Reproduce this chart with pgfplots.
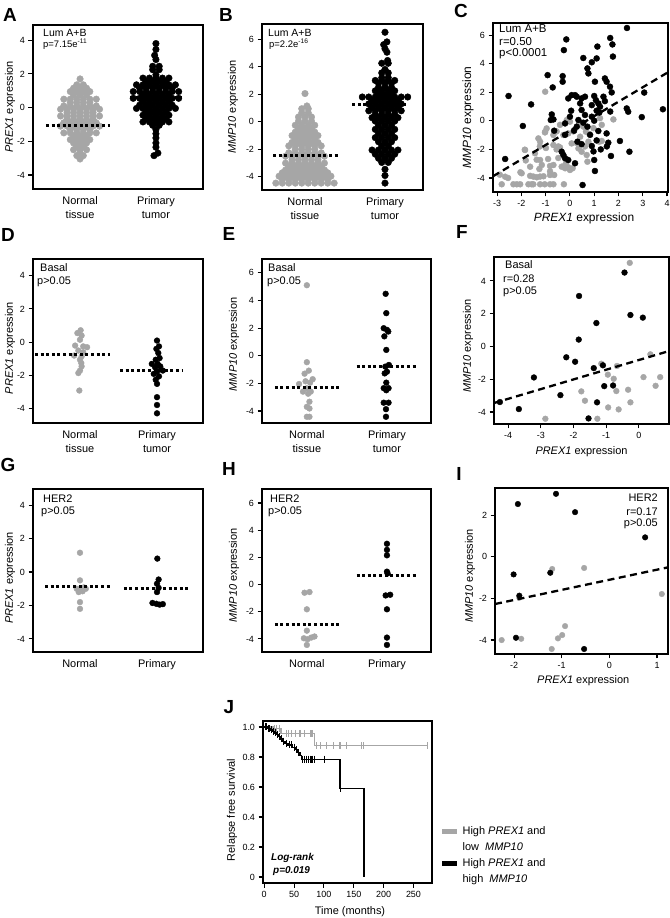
\documentclass[border=0pt]{standalone}
\usepackage{pgfplots}
\pgfplotsset{compat=1.18}
\usepackage{fontspec}
\setmainfont{Liberation Sans}
\definecolor{gr}{RGB}{166,166,166}
\pgfplotsset{
 base/.style={scale only axis, anchor=south west, clip=false, clip marker paths=true,
   axis line style={line width=1.1bp},
   every tick/.style={black, line width=1.1bp},
   tick align=outside, major tick length=4.5bp, tick pos=left,
   ticklabel style={font=\fontsize{9}{10}\selectfont},
   /pgf/number format/assume math mode=true,
   every axis y label/.style={at={(axis description cs:-0.15,0.5)}, rotate=90, anchor=center, font=\fontsize{11}{13}\selectfont},
   every axis x label/.style={at={(axis description cs:0.5,-0.16)}, anchor=center, font=\fontsize{11}{13}\selectfont},
 },
 swarm/.style={base, xtick={1,2}, xticklabels={{Normal\\tissue},{Primary\\tumor}},
   xticklabel style={align=center, font=\fontsize{11}{14}\selectfont},
   xtick style={draw=none}},
 gdot/.style={only marks, mark=*, color=gr, mark size=#1},
 gdot/.default=3.3bp,
 bdot/.style={only marks, mark=*, color=black, mark size=#1},
 bdot/.default=3.3bp,
 med/.style={black, line width=3bp, dash pattern=on 3bp off 2.6bp},
 reg/.style={black, line width=2.3bp, dash pattern=on 7bp off 4.5bp},
}
\begin{document}
\begin{tikzpicture}
% ---------------- A ----------------
\begin{axis}[swarm, at={(33bp,729bp)}, width=170bp, height=164bp,
  xmin=0.38, xmax=2.62, ymin=-4.83, ymax=4.9, ytick={-4,-2,0,2,4},
  ylabel={\textit{PREX1} expression}, ylabel style={at={(axis description cs:-0.135,0.5)}}]
\addplot[gdot] table[x expr=1+0.0855*\thisrow{k}, y=y, row sep=\\] {k y\\
0 1.7\\ -0.5 1.35\\ 0.5 1.35\\ -1 1.15\\ 0 1.15\\ 1 1.15\\
-1.5 0.95\\ -0.5 0.95\\ 0.5 0.95\\ 1.5 0.95\\ -1 0.75\\ 0 0.75\\ 1 0.75\\
-2.5 0.5\\ -1.5 0.5\\ -0.5 0.5\\ 0.5 0.5\\ 1.5 0.5\\ 2.5 0.5\\
-1.5 0.3\\ -0.5 0.3\\ 0.5 0.3\\ 1.5 0.3\\
-2.5 0.1\\ -1.5 0.1\\ -0.5 0.1\\ 0.5 0.1\\ 1.5 0.1\\ 2.5 0.1\\
-3 -0.1\\ -2 -0.1\\ -1 -0.1\\ 0 -0.1\\ 1 -0.1\\ 2 -0.1\\ 3 -0.1\\
-2 -0.3\\ -1 -0.3\\ 0 -0.3\\ 1 -0.3\\ 2 -0.3\\
-3 -0.5\\ -2 -0.5\\ -1 -0.5\\ 0 -0.5\\ 1 -0.5\\ 2 -0.5\\ 3 -0.5\\
-2 -0.7\\ -1 -0.7\\ 0 -0.7\\ 1 -0.7\\ 2 -0.7\\
-2.5 -0.9\\ -1.5 -0.9\\ -0.5 -0.9\\ 0.5 -0.9\\ 1.5 -0.9\\ 2.5 -0.9\\
-3 -1.1\\ -2 -1.1\\ -1 -1.1\\ 0 -1.1\\ 1 -1.1\\ 2 -1.1\\ 3 -1.1\\
-1.5 -1.3\\ -0.5 -1.3\\ 0.5 -1.3\\ 1.5 -1.3\\
-2.5 -1.5\\ -1.5 -1.5\\ -0.5 -1.5\\ 0.5 -1.5\\ 1.5 -1.5\\ 2.5 -1.5\\
-1 -1.7\\ 0 -1.7\\ 1 -1.7\\ -1.5 -1.9\\ -0.5 -1.9\\ 0.5 -1.9\\ 1.5 -1.9\\
-1 -2.1\\ 0 -2.1\\ 1 -2.1\\ -0.5 -2.3\\ 0.5 -2.3\\
-1 -2.5\\ 0 -2.5\\ 1 -2.5\\ 0 -2.7\\ -0.5 -2.85\\ 0.5 -2.85\\ 0 -3.05\\
};
\addplot[bdot] table[x expr=2+0.0855*\thisrow{k}, y=y, row sep=\\] {k y\\
0 3.8\\ 0 3.45\\ -0.2 3.1\\ 0 2.85\\ -0.5 2.45\\ 0.5 2.45\\ -0.5 2.25\\ 0.5 2.25\\ 0 1.95\\
-2 1.75\\ -1 1.75\\ 0 1.75\\ 1 1.75\\ 2 1.75\\
-1.5 1.55\\ -0.5 1.55\\ 0.5 1.55\\ 1.5 1.55\\
-3 1.35\\ -2 1.35\\ -1 1.35\\ 0 1.35\\ 1 1.35\\ 2 1.35\\ 3 1.35\\
-2.5 1.15\\ -1.5 1.15\\ -0.5 1.15\\ 0.5 1.15\\ 1.5 1.15\\ 2.5 1.15\\
-3.5 0.95\\ -2.5 0.95\\ -1.5 0.95\\ -0.5 0.95\\ 0.5 0.95\\ 1.5 0.95\\ 2.5 0.95\\ 3.5 0.95\\
-2 0.75\\ -1 0.75\\ 0 0.75\\ 1 0.75\\ 2 0.75\\
-3.5 0.55\\ -2.5 0.55\\ -1.5 0.55\\ -0.5 0.55\\ 0.5 0.55\\ 1.5 0.55\\ 2.5 0.55\\ 3.5 0.55\\
-2 0.35\\ -1 0.35\\ 0 0.35\\ 1 0.35\\ 2 0.35\\
-2.5 0.15\\ -1.5 0.15\\ -0.5 0.15\\ 0.5 0.15\\ 1.5 0.15\\ 2.5 0.15\\
-3 -0.05\\ -2 -0.05\\ -1 -0.05\\ 0 -0.05\\ 1 -0.05\\ 2 -0.05\\ 3 -0.05\\
-1.5 -0.25\\ -0.5 -0.25\\ 0.5 -0.25\\ 1.5 -0.25\\
-2 -0.45\\ -1 -0.45\\ 0 -0.45\\ 1 -0.45\\ 2 -0.45\\
-1.5 -0.65\\ -0.5 -0.65\\ 0.5 -0.65\\ 1.5 -0.65\\
-2 -0.85\\ -1 -0.85\\ 0 -0.85\\ 1 -0.85\\ 2 -0.85\\
-0.5 -1.05\\ 0.5 -1.05\\ 0 -1.3\\ 0 -1.55\\ 0 -1.8\\ 0 -2.1\\ 0 -2.35\\ 0.3 -2.7\\ -0.3 -2.85\\
};
\addplot[med] coordinates {(0.55,-1.05) (1.4,-1.05)};
\addplot[med] coordinates {(1.66,0.6) (2.34,0.6)};
\end{axis}
% ---------------- B ----------------
\begin{axis}[swarm, at={(262bp,728bp)}, width=161bp, height=166bp,
  xmin=0.4625, xmax=2.475, ymin=-4.95, ymax=7.1, ytick={-4,-2,0,2,4,6},
  ylabel={\textit{MMP10} expression}, ylabel style={at={(axis description cs:-0.18,0.5)}}]
\addplot[gdot] table[x expr=1+0.081*\thisrow{k}, y=y, row sep=\\] {k y\\
0 2.05\\ 0.3 1.15\\ -0.5 0.95\\ 0.5 0.95\\ -0.5 0.65\\ 0.5 0.65\\
-1 0.35\\ 0 0.35\\ 1 0.35\\ -1 0.05\\ 0 0.05\\ 1 0.05\\
-1.5 -0.25\\ -0.5 -0.25\\ 0.5 -0.25\\ 1.5 -0.25\\ -1 -0.5\\ 0 -0.5\\ 1 -0.5\\
-1.5 -0.75\\ -0.5 -0.75\\ 0.5 -0.75\\ 1.5 -0.75\\
-2 -1\\ -1 -1\\ 0 -1\\ 1 -1\\ 2 -1\\
-1.5 -1.25\\ -0.5 -1.25\\ 0.5 -1.25\\ 1.5 -1.25\\
-2 -1.5\\ -1 -1.5\\ 0 -1.5\\ 1 -1.5\\ 2 -1.5\\
-2.5 -1.75\\ -1.5 -1.75\\ -0.5 -1.75\\ 0.5 -1.75\\ 1.5 -1.75\\ 2.5 -1.75\\
-1.5 -2\\ -0.5 -2\\ 0.5 -2\\ 1.5 -2\\
-2.5 -2.25\\ -1.5 -2.25\\ -0.5 -2.25\\ 0.5 -2.25\\ 1.5 -2.25\\ 2.5 -2.25\\
-3 -2.5\\ -2 -2.5\\ -1 -2.5\\ 0 -2.5\\ 1 -2.5\\ 2 -2.5\\ 3 -2.5\\
-2 -2.75\\ -1 -2.75\\ 0 -2.75\\ 1 -2.75\\ 2 -2.75\\
-3 -3\\ -2 -3\\ -1 -3\\ 0 -3\\ 1 -3\\ 2 -3\\ 3 -3\\
-2.5 -3.25\\ -1.5 -3.25\\ -0.5 -3.25\\ 0.5 -3.25\\ 1.5 -3.25\\ 2.5 -3.25\\
-3 -3.5\\ -2 -3.5\\ -1 -3.5\\ 0 -3.5\\ 1 -3.5\\ 2 -3.5\\ 3 -3.5\\
-3.5 -3.7\\ -2.5 -3.7\\ -1.5 -3.7\\ -0.5 -3.7\\ 0.5 -3.7\\ 1.5 -3.7\\ 2.5 -3.7\\ 3.5 -3.7\\
-4 -3.95\\ -3 -3.95\\ -2 -3.95\\ -1 -3.95\\ 0 -3.95\\ 1 -3.95\\ 2 -3.95\\ 3 -3.95\\ 4 -3.95\\
-3.5 -4.2\\ -2.5 -4.2\\ -1.5 -4.2\\ -0.5 -4.2\\ 0.5 -4.2\\ 1.5 -4.2\\ 2.5 -4.2\\ 3.5 -4.2\\
-4.5 -4.45\\ -3.5 -4.45\\ -2.5 -4.45\\ -1.5 -4.45\\ -0.5 -4.45\\ 0.5 -4.45\\ 1.5 -4.45\\ 2.5 -4.45\\ 3.5 -4.45\\ 4.5 -4.45\\
};
\addplot[bdot] table[x expr=2+0.081*\thisrow{k}, y=y, row sep=\\] {k y\\
0 6.5\\ 0.3 5.8\\ -0.2 5.6\\ 0 5.3\\ 0.3 5.05\\ 0.4 4.45\\ -0.5 4.25\\ 0.5 4.25\\ 0 3.8\\
-0.5 3.55\\ 0.5 3.55\\ -0.5 3.2\\ 0.5 3.2\\
-1.5 3\\ -0.5 3\\ 0.5 3\\ 1.5 3\\ -1 2.8\\ 0 2.8\\ 1 2.8\\
-1 2.5\\ 0 2.5\\ 1 2.5\\ -1.5 2.25\\ -0.5 2.25\\ 0.5 2.25\\ 1.5 2.25\\
-1 2\\ 0 2\\ 1 2\\
-3.5 1.8\\ -2.5 1.8\\ -1.5 1.8\\ -0.5 1.8\\ 0.5 1.8\\ 1.5 1.8\\ 2.5 1.8\\ 3.5 1.8\\
-2 1.55\\ -1 1.55\\ 0 1.55\\ 1 1.55\\ 2 1.55\\
-2.5 1.3\\ -1.5 1.3\\ -0.5 1.3\\ 0.5 1.3\\ 1.5 1.3\\ 2.5 1.3\\
-2 1.05\\ -1 1.05\\ 0 1.05\\ 1 1.05\\ 2 1.05\\
-2.5 0.8\\ -1.5 0.8\\ -0.5 0.8\\ 0.5 0.8\\ 1.5 0.8\\ 2.5 0.8\\
-1.5 0.55\\ -0.5 0.55\\ 0.5 0.55\\ 1.5 0.55\\
-2 0.3\\ -1 0.3\\ 0 0.3\\ 1 0.3\\ 2 0.3\\
-1.5 0.05\\ -0.5 0.05\\ 0.5 0.05\\ 1.5 0.05\\
-1 -0.25\\ 0 -0.25\\ 1 -0.25\\ -1.5 -0.55\\ -0.5 -0.55\\ 0.5 -0.55\\ 1.5 -0.55\\
-1 -0.85\\ 0 -0.85\\ 1 -0.85\\ -1.5 -1.15\\ -0.5 -1.15\\ 0.5 -1.15\\ 1.5 -1.15\\
-1 -1.45\\ 0 -1.45\\ 1 -1.45\\ -0.5 -1.75\\ 0.5 -1.75\\
-2 -2.05\\ -1 -2.05\\ 0 -2.05\\ 1 -2.05\\ 2 -2.05\\
-1.5 -2.35\\ -0.5 -2.35\\ 0.5 -2.35\\ 1.5 -2.35\\ -1 -2.65\\ 0 -2.65\\ 1 -2.65\\
-0.5 -2.95\\ 0.5 -2.95\\ 0 -3.45\\ 0 -3.9\\ 0 -4.45\\
};
\addplot[med] coordinates {(0.6,-2.42) (1.41,-2.42)};
\addplot[med] coordinates {(1.59,1.29) (2.29,1.29)};
\end{axis}
% ---------------- C ----------------
\begin{axis}[base, at={(493bp,726bp)}, width=175bp, height=169bp,
  xmin=-3.17, xmax=4.04, ymin=-4.98, ymax=6.85, xtick={-3,-2,...,4}, ytick={-4,-2,0,2,4,6},
  xlabel={\textit{PREX1} expression}, ylabel={\textit{MMP10} expression},
  xlabel style={at={(axis description cs:0.52,-0.154)}, font=\fontsize{12}{14}\selectfont},
  ylabel style={at={(axis description cs:-0.143,0.44)}, font=\fontsize{12}{14}\selectfont}]
\addplot[gdot=3bp] coordinates {(-1.02,2.04) (1.79,0.1) (-0.13,0.06) (0.0,-0.06) (-0.96,-0.53) (-1.02,-0.76) (-0.68,-0.99) (-1.3,-1.23) (-1.23,-1.46) (-0.27,-0.99) (-0.07,-0.88) (0.42,-1.11) (0.66,-0.76) (0.8,-0.92) (1.21,-1.46) (1.31,-1.41) (0.76,-1.46) (0.07,-1.58) (0.35,-1.93) (0.48,-2.16) (-0.68,-1.69) (-0.41,-1.86) (-0.55,-2.0) (-1.85,-2.04) (-1.44,-2.27) (-1.23,-2.74) (-1.16,-3.09) (-1.64,-3.21) (-0.82,-3.16) (-0.68,-3.09) (-0.34,-3.21) (-0.2,-3.32) (-0.07,-3.25) (0.69,-2.39) (0.72,-2.86) (-1.99,-3.67) (-2.67,-3.91) (-1.64,-3.85) (-1.51,-3.9) (-1.37,-3.95) (-1.23,-3.9) (-1.09,-3.88) (-0.82,-3.79) (-0.65,-3.79) (-2.33,-4.44) (-2.19,-4.44) (-2.05,-4.44) (-1.71,-4.44) (-1.51,-4.44) (-1.23,-4.44) (-0.82,-4.44) (-0.68,-4.44) (-2.81,-4.44) (-0.25,-4.44) (0.0,-3.44) (0.11,-3.32) (-2.89,-3.77) (-2.55,-4.0) (-1.58,-4.44) (-1.04,-4.44) (-0.41,-0.28) (-0.55,-0.74) (0.14,-0.74) (0.35,-0.28) (0.55,-0.4) (1.24,0.19) (1.31,-0.28) (0.97,-0.51) (-1.03,-0.81) (0.62,-1.79) (0.28,-1.56) (-0.48,-1.79) (-0.99,-1.9) (-1.24,-1.79) (-1.86,-2.02) (-0.9,-2.67) (-0.48,-2.6) (-0.16,-2.95) (-0.27,-3.19) (-1.37,-2.72) (-1.82,-2.77) (-2.04,-3.6) (-1.26,-3.37) (-0.82,-3.53)};
\addplot[bdot=3bp] coordinates {(2.35,6.5) (-0.15,5.7) (-0.25,4.95) (1.66,5.8) (1.75,5.35) (1.13,5.2) (0.55,4.4) (1.1,4.37) (0.9,4.1) (1.77,4.5) (0.72,3.67) (0.76,3.32) (-0.92,3.2) (-0.3,3.13) (-0.3,2.74) (1.44,2.97) (1.51,2.74) (1.03,2.74) (-0.71,2.34) (-2.53,1.74) (-1.6,1.15) (1.65,2.39) (1.72,1.99) (0.07,1.8) (0.21,1.8) (0.28,1.69) (-0.07,1.57) (0.48,1.57) (0.62,1.69) (1.0,1.74) (1.07,1.45) (1.38,1.69) (1.44,1.38) (0.42,1.22) (0.9,1.1) (1.17,1.22) (2.34,0.87) (2.4,0.64) (0.05,0.71) (0.48,0.76) (1.1,0.71) (1.24,0.99) (-0.75,0.45) (-0.68,0.1) (-0.79,0.06) (0.0,0.29) (0.35,0.06) (0.62,0.41) (0.9,0.29) (1.0,0.01) (0.55,-0.13) (-0.2,-0.18) (-1.94,-0.36) (-0.65,-0.69) (0.17,-0.69) (0.28,-0.41) (0.72,-0.41) (1.17,-0.71) (1.51,-0.88) (2.06,-1.41) (1.58,-1.53) (-0.34,-2.16) (-0.27,-2.39) (-0.2,-2.62) (-0.07,-2.74) (0.21,-2.97) (0.9,-1.76) (1.27,-2.0) (0.31,-1.46) (1.0,-2.74) (1.03,-3.51) (1.69,-2.46) (2.45,-2.16) (0.52,-4.49) (-2.67,-2.67) (3.06,1.98) (3.83,0.81) (2.96,0.26) (0.83,-0.98) (1.1,-1.37) (0.48,-1.63) (0.97,-2.14) (1.52,-1.79) (1.66,0.65) (1.21,0.58) (-0.2,-0.98)};
\addplot[reg] coordinates {(-3.17,-3.88) (4.04,3.4)};
\end{axis}
% ---------------- D ----------------
\begin{axis}[swarm, at={(33bp,495bp)}, width=170bp, height=164bp,
  xmin=0.39, xmax=2.597, ymin=-4.85, ymax=5.0, ytick={-4,-2,0,2,4},
  ylabel={\textit{PREX1} expression}, ylabel style={at={(axis description cs:-0.135,0.457)}}]
\addplot[gdot=2.9bp] table[x expr=1+0.084*\thisrow{k}, y=y, row sep=\\] {k y\\
0.1 0.72\\ -0.4 0.55\\ 0.25 0.4\\ 0 0.15\\ -0.75 -0.2\\ 0.5 -0.25\\ 1.1 -0.3\\ -0.25 -0.5\\ 0.5 -0.6\\ -0.9 -0.8\\ 0.25 -0.85\\ 0 -1.05\\ 0.2 -1.25\\ 0.25 -1.45\\ 0 -1.7\\ -0.25 -1.85\\ -0.1 -2.9\\
};
\addplot[bdot=2.9bp] table[x expr=2+0.084*\thisrow{k}, y=y, row sep=\\] {k y\\
0 0.1\\ 0.3 -0.25\\ -0.1 -0.4\\ 0.2 -0.65\\ 0.4 -0.95\\ -0.2 -1.05\\ -0.8 -1.3\\ 0.1 -1.3\\ 0.5 -1.45\\ -0.3 -1.5\\ 0.9 -1.7\\ 0 -1.75\\ -0.5 -1.9\\ 0.3 -2.05\\ -0.2 -2.25\\ 0 -2.5\\ 0 -3.3\\ 0 -3.77\\ 0 -4.27\\
};
\addplot[med] coordinates {(0.416,-0.76) (1.39,-0.76)};
\addplot[med] coordinates {(1.52,-1.7) (2.33,-1.7)};
\end{axis}
% ---------------- E ----------------
\begin{axis}[swarm, at={(262bp,495bp)}, width=169bp, height=164bp,
  xmin=0.44, xmax=2.55, ymin=-4.87, ymax=7.0, ytick={-4,-2,0,2,4,6},
  ylabel={\textit{MMP10} expression}, ylabel style={at={(axis description cs:-0.166,0.48)}}]
\addplot[gdot=2.9bp] table[x expr=1+0.081*\thisrow{k}, y=y, row sep=\\] {k y\\
0 5.1\\ 0 -0.47\\ 0.3 -1.08\\ -0.35 -1.3\\ 0.9 -1.7\\ -0.2 -1.85\\ 0.5 -1.95\\ -1.2 -2.05\\ 0 -2.36\\ -0.6 -2.6\\ 0.6 -2.6\\ 0.2 -2.75\\ 0.4 -3.33\\ 0 -3.7\\ 0.4 -3.82\\ 0 -4.42\\ 0.4 -4.42\\
};
\addplot[bdot=2.9bp] table[x expr=2+0.081*\thisrow{k}, y=y, row sep=\\] {k y\\
-0.2 4.48\\ -0.1 3.08\\ -0.5 1.99\\ 0 1.87\\ 0.2 1.75\\ -0.4 1.4\\ -0.1 0.42\\ 0.3 -0.67\\ -0.25 -0.79\\ 0 -1.16\\ -0.35 -1.28\\ -0.1 -1.95\\ -0.5 -2.35\\ 0.25 -2.35\\ -0.1 -2.5\\ -0.5 -3.4\\ 0.25 -3.4\\ -0.15 -3.87\\ -0.15 -4.42\\
};
\addplot[med] coordinates {(0.6,-2.3) (1.415,-2.3)};
\addplot[med] coordinates {(1.62,-0.79) (2.37,-0.79)};
\end{axis}
% ---------------- F ----------------
\begin{axis}[base, at={(494bp,494bp)}, width=175bp, height=167bp,
  xmin=-4.43, xmax=0.92, ymin=-4.73, ymax=5.46, xtick={-4,-3,...,0}, ytick={-4,-2,0,2,4},
  xlabel={\textit{PREX1} expression}, ylabel={\textit{MMP10} expression},
  xlabel style={at={(axis description cs:0.5,-0.168)}}, ylabel style={at={(axis description cs:-0.149,0.467)}}]
\addplot[gdot=2.9bp] coordinates {(-0.28,5.1) (-1.15,-1.05) (-0.67,-1.19) (0.35,-0.48) (-0.95,-1.72) (-0.77,-1.97) (0.14,-1.87) (0.65,-1.87) (0.51,-2.4) (-0.69,-2.72) (-0.33,-2.64) (-1.76,-2.74) (-1.65,-3.31) (-0.94,-3.72) (-0.62,-3.84) (-0.26,-3.41) (-2.86,-4.41) (-1.27,-4.41)};
\addplot[bdot=2.9bp] coordinates {(-0.44,4.51) (-1.83,3.08) (-0.26,1.92) (0.12,1.76) (-1.3,1.43) (-1.84,0.42) (-2.22,-0.66) (-1.95,-0.93) (-1.38,-1.32) (-1.1,-1.15) (-3.21,-1.89) (-1.06,-2.42) (-0.79,-2.38) (-2.4,-2.97) (-1.28,-3.41) (-3.67,-3.82) (-4.25,-3.39) (-1.54,-4.39)};
\addplot[reg] coordinates {(-4.43,-3.45) (0.92,-0.28)};
\end{axis}
% ---------------- G ----------------
\begin{axis}[swarm, at={(33bp,266bp)}, width=170bp, height=163bp,
  xmin=0.39, xmax=2.597, ymin=-4.78, ymax=4.96, ytick={-4,-2,0,2,4},
  xticklabels={Normal,Primary},
  ylabel={\textit{PREX1} expression}, ylabel style={at={(axis description cs:-0.135,0.454)}}]
\addplot[gdot=2.9bp] table[x expr=1+0.084*\thisrow{k}, y=y, row sep=\\] {k y\\
0 1.15\\ 0 -0.5\\ 0.6 -0.92\\ -0.5 -1.0\\ 0 -1.05\\ 0.9 -1.0\\ -0.2 -1.2\\ 0.4 -1.15\\ 0 -1.8\\ 0 -2.2\\
};
\addplot[bdot=2.9bp] table[x expr=2+0.084*\thisrow{k}, y=y, row sep=\\] {k y\\
0.05 0.8\\ 0.25 -0.45\\ 0 -0.7\\ 0.25 -0.95\\ 0 -1.2\\ -0.7 -1.85\\ -0.1 -1.9\\ 0.4 -1.95\\ 0.9 -1.92\\
};
\addplot[med] coordinates {(0.546,-0.88) (1.39,-0.88)};
\addplot[med] coordinates {(1.57,-0.97) (2.4,-0.97)};
\end{axis}
% ---------------- H ----------------
\begin{axis}[swarm, at={(262bp,266bp)}, width=169bp, height=163bp,
  xmin=0.44, xmax=2.55, ymin=-4.96, ymax=7.03, ytick={-4,-2,0,2,4,6},
  xticklabels={Normal,Primary},
  ylabel={\textit{MMP10} expression}, ylabel style={at={(axis description cs:-0.166,0.47)}}]
\addplot[gdot=2.9bp] table[x expr=1+0.081*\thisrow{k}, y=y, row sep=\\] {k y\\
-0.36 -0.6\\ 0.41 -0.55\\ 0 -1.82\\ 0 -3.39\\ -0.46 -3.95\\ 0.1 -4.02\\ 0.67 -3.9\\ 1.18 -3.82\\ 0 -4.44\\
};
\addplot[bdot=2.9bp] table[x expr=2+0.081*\thisrow{k}, y=y, row sep=\\] {k y\\
0 3.0\\ 0 2.55\\ 0 2.15\\ 0 0.95\\ 0.1 0.82\\ -0.2 -0.8\\ 0.5 -0.75\\ 0 -1.82\\ 0 -3.9\\ 0 -4.44\\
};
\addplot[med] coordinates {(0.6,-2.97) (1.415,-2.97)};
\addplot[med] coordinates {(1.62,0.68) (2.37,0.68)};
\end{axis}
% ---------------- I ----------------
\begin{axis}[base, at={(495bp,264bp)}, width=173bp, height=166bp,
  xmin=-2.4, xmax=1.23, ymin=-4.67, ymax=3.3, xtick={-2,-1,0,1}, ytick={-4,-2,0,2},
  xlabel={\textit{PREX1} expression}, ylabel={\textit{MMP10} expression},
  xlabel style={at={(axis description cs:0.51,-0.163)}}, ylabel style={at={(axis description cs:-0.145,0.47)}}]
\addplot[gdot=2.8bp] coordinates {(-2.26,-4.0) (-1.85,-3.94) (-1.2,-0.59) (-0.53,-0.54) (-1.89,-1.97) (-0.93,-3.33) (-0.99,-3.76) (-1.08,-3.92) (-1.21,-4.43) (1.1,-1.79)};
\addplot[bdot=2.8bp] coordinates {(-1.92,2.53) (-1.12,3.02) (-0.72,2.14) (0.75,0.93) (-2.01,-0.85) (-1.24,-0.77) (-1.89,-1.87) (-1.96,-3.89) (-0.53,-4.43)};
\addplot[reg] coordinates {(-2.4,-2.27) (1.23,-0.51)};
\end{axis}
% ---------------- J ----------------
\begin{axis}[base, at={(263bp,35bp)}, width=169bp, height=162bp,
  xmin=-2, xmax=281, ymin=-0.04, ymax=1.04, xtick={0,50,...,250},
  ytick={0,0.2,0.4,0.6,0.8,1}, yticklabels={0,0.2,0.4,0.6,0.8,1.0},
  xlabel={Time (months)}, ylabel={Relapse free survival},
  xlabel style={at={(axis description cs:0.515,-0.179)}}, ylabel style={at={(axis description cs:-0.183,0.45)}},
  legend image code/.code={\draw[#1] (0bp,0bp) -- (15bp,0bp);},
  legend cell align=left,
  legend style={at={(axis description cs:1.047,0.36)}, anchor=north west, draw=none, fill=none,
    inner sep=0pt, row sep=2.5bp, font=\fontsize{11}{13}\selectfont,
    nodes={inner sep=1.5bp, text height=8bp, text depth=2.5bp},
    /tikz/every odd column/.append style={column sep=1.5bp}}]
\addplot[gr, line width=1.4bp, const plot, forget plot] coordinates {(0,1) (15,0.99) (28,0.958) (84,0.875) (275,0.875)};
\addplot[gr, only marks, mark=|, mark size=3.5bp, mark options={line width=1.1bp}, forget plot] coordinates {(18,0.99) (21,0.99) (25,0.99) (37,0.958) (41,0.958) (46,0.958) (52,0.958) (60,0.958) (68,0.958) (77,0.958) (80,0.958) (88,0.875) (94,0.875) (105,0.875) (116,0.875) (127,0.875) (138,0.875) (163,0.875) (166,0.875) (274,0.875)};
\addplot[black, line width=1.4bp, const plot, forget plot] coordinates {(0,1) (5,0.99) (10,0.98) (14,0.97) (17,0.96) (20,0.95) (24,0.935) (27,0.92) (30,0.905) (35,0.89) (40,0.88) (47,0.865) (52,0.85) (56,0.83) (60,0.81) (62,0.785) (127,0.59) (167,0)};
\addplot[black, only marks, mark=|, mark size=3.5bp, mark options={line width=1.1bp}, forget plot] coordinates {(3,1) (8,0.99) (12,0.98) (16,0.97) (19,0.96) (22,0.95) (26,0.935) (29,0.92) (33,0.905) (37,0.89) (43,0.88) (45,0.88) (50,0.865) (54,0.85) (58,0.83) (64,0.785) (68,0.785) (71,0.785) (74,0.785) (77,0.785) (80,0.785) (84,0.785) (101,0.785) (128,0.59)};
\addlegendimage{gr, line width=4.5bp}
\addlegendentry{High \textit{PREX1} and}
\addlegendimage{empty legend}
\addlegendentry{low \ \textit{MMP10}}
\addlegendimage{black, line width=4.5bp}
\addlegendentry{High \textit{PREX1} and}
\addlegendimage{empty legend}
\addlegendentry{high \ \textit{MMP10}}
\end{axis}
% ---------------- texts ----------------
\begin{scope}[every node/.style={inner sep=0pt}]
\foreach \l/\x/\y in {A/10/903, B/226/903, C/461/907, D/8/683, E/229/684, F/462/686, G/8/453, H/229/449, I/459/444, J/229/211}
  \node[font=\fontsize{19}{19}\selectfont\bfseries] at (\x bp,\y bp) {\l};
\node[anchor=west, font=\fontsize{10.5}{12}\selectfont] at (43bp,885bp) {Lum A+B};
\node[anchor=west, font=\fontsize{9.5}{11}\selectfont] at (43bp,874bp) {p=7.15e\textsuperscript{-11}};
\node[anchor=west, font=\fontsize{10.5}{12}\selectfont] at (268bp,885bp) {Lum A+B};
\node[anchor=west, font=\fontsize{9.5}{11}\selectfont] at (269bp,874bp) {p=2.2e\textsuperscript{-16}};
\node[anchor=west, font=\fontsize{11.5}{13}\selectfont] at (499bp,889bp) {Lum A+B};
\node[anchor=west, font=\fontsize{11.5}{13}\selectfont] at (499bp,876bp) {r=0.50};
\node[anchor=west, font=\fontsize{11.5}{13}\selectfont] at (499bp,864bp) {p<0.0001};
\node[anchor=west, font=\fontsize{11}{13}\selectfont] at (40bp,650bp) {Basal};
\node[anchor=west, font=\fontsize{11}{13}\selectfont] at (37bp,636bp) {p>0.05};
\node[anchor=west, font=\fontsize{11}{13}\selectfont] at (268bp,650bp) {Basal};
\node[anchor=west, font=\fontsize{11}{13}\selectfont] at (267bp,636bp) {p>0.05};
\node[anchor=west, font=\fontsize{11}{13}\selectfont] at (505bp,653bp) {Basal};
\node[anchor=west, font=\fontsize{11}{13}\selectfont] at (503bp,639bp) {r=0.28};
\node[anchor=west, font=\fontsize{11}{13}\selectfont] at (503bp,626bp) {p>0.05};
\node[anchor=west, font=\fontsize{11}{13}\selectfont] at (43bp,419bp) {HER2};
\node[anchor=west, font=\fontsize{11}{13}\selectfont] at (41bp,406bp) {p>0.05};
\node[anchor=west, font=\fontsize{11}{13}\selectfont] at (270bp,419bp) {HER2};
\node[anchor=west, font=\fontsize{11}{13}\selectfont] at (268bp,406bp) {p>0.05};
\node[anchor=east, font=\fontsize{11}{13}\selectfont] at (658bp,420bp) {HER2};
\node[anchor=east, font=\fontsize{11}{13}\selectfont] at (658bp,406bp) {r=0.17};
\node[anchor=east, font=\fontsize{11}{13}\selectfont] at (658bp,394bp) {p>0.05};
\node[anchor=west, font=\fontsize{10}{12}\selectfont\bfseries\itshape] at (271bp,60bp) {Log-rank};
\node[anchor=west, font=\fontsize{10}{12}\selectfont\bfseries\itshape] at (273bp,47bp) {p=0.019};
\end{scope}
\pgfresetboundingbox
\path[use as bounding box] (0,0) rectangle (670bp,918bp);
\end{tikzpicture}
\end{document}
